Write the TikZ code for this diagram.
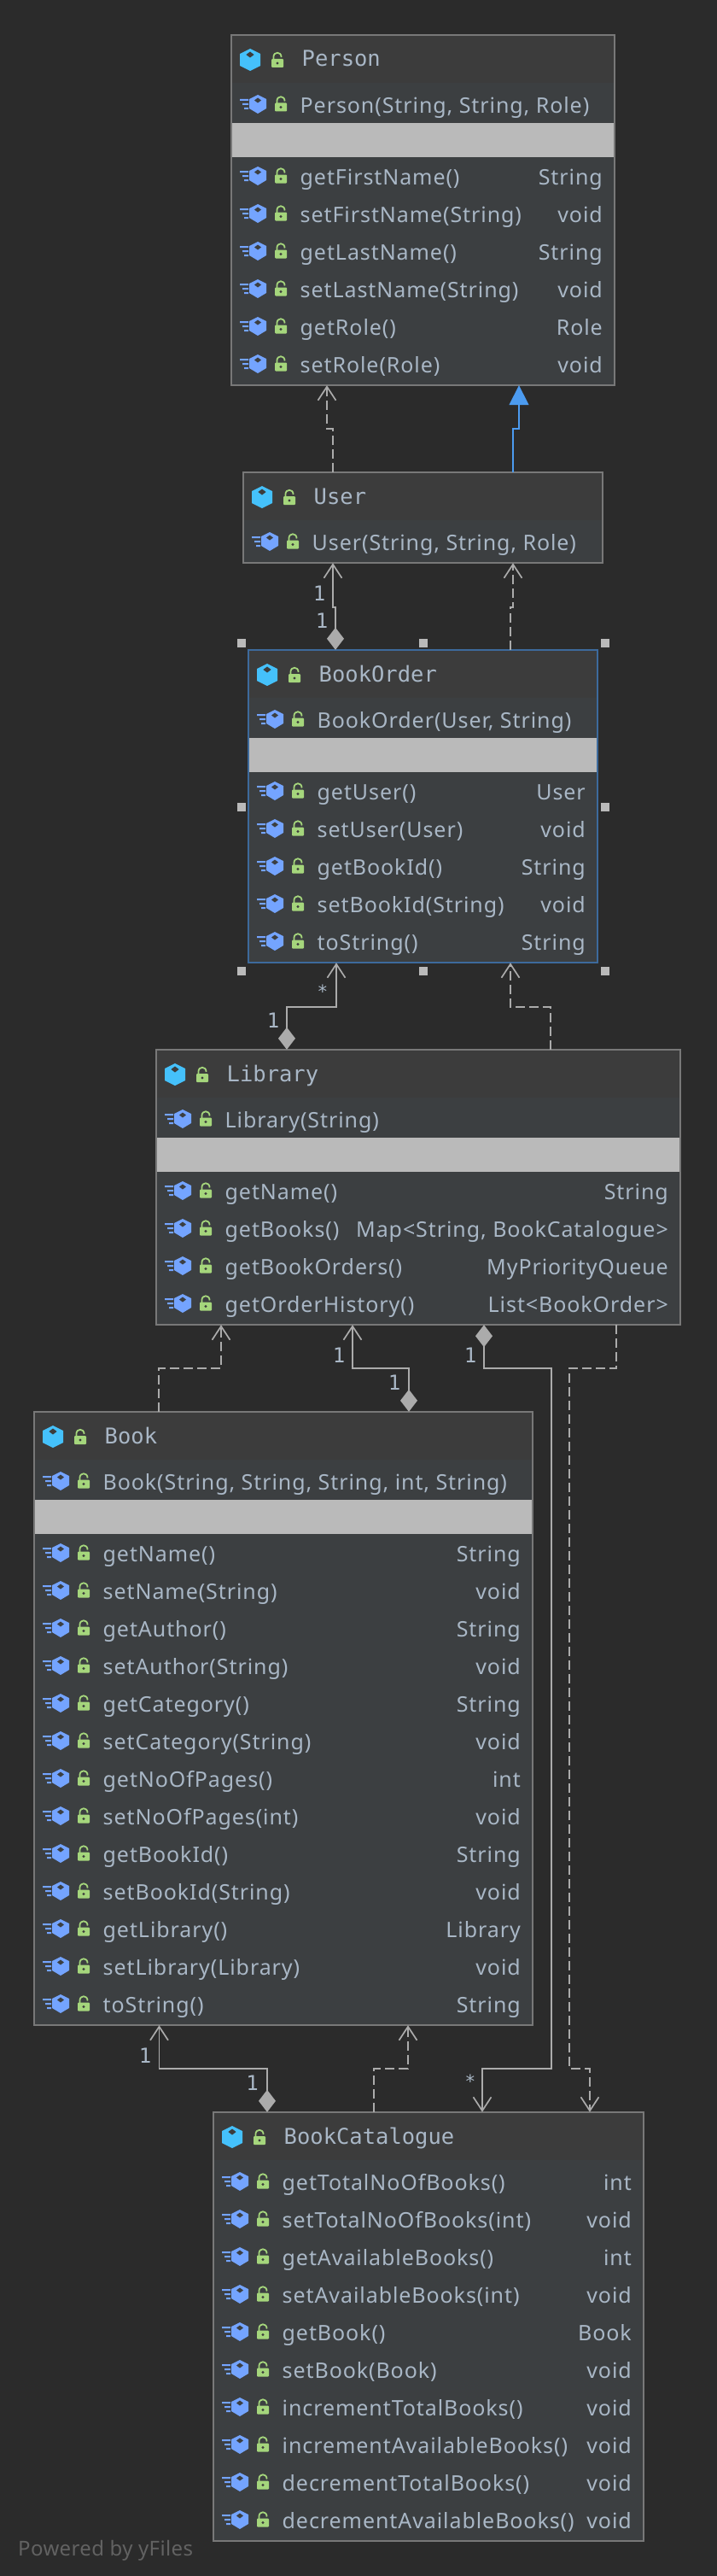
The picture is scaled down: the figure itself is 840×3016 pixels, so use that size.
\documentclass[tikz,border=0pt]{standalone}
\usepackage{fontspec}
\setmainfont{Noto Sans}
\newfontfamily\memberfont[LetterSpace=3.7]{Noto Sans}
\newfontfamily\stampfont[LetterSpace=1.5]{Noto Sans}
\newfontfamily\titlefont{DejaVu Sans Mono}
\usetikzlibrary{arrows.meta}

\definecolor{canvas}{HTML}{2B2B2B}
\definecolor{headfill}{HTML}{3C3C3C}
\definecolor{bodyfill}{HTML}{3C3F41}
\definecolor{frameline}{HTML}{787878}
\definecolor{selectline}{HTML}{3D6A9C}
\definecolor{bandfill}{HTML}{BABABA}
\definecolor{memtext}{HTML}{A9B7C6}
\definecolor{edgeline}{HTML}{ABABAB}
\definecolor{extendline}{HTML}{4C9BF0}
\definecolor{cubeclass}{HTML}{45C1FB}
\definecolor{cubemethod}{HTML}{74A4FF}
\definecolor{lockgreen}{HTML}{A5D67C}
\definecolor{stamptext}{HTML}{626262}

\tikzset{
  lockicon/.pic={
    \draw[lockgreen,line width=1.8pt,fill=none] (-4.6,-4) -- (-4.6,-7) .. controls (-4.6,-14) and (4.6,-14) .. (4.6,-7);
    \fill[lockgreen,rounded corners=1pt] (-7,-5) rectangle (7,5);
    \fill[headfill] (0,0) circle (1.6pt);
  },
  classicon/.pic={
    \fill[cubeclass] (0,-13) -- (12,-7) -- (12,7) -- (0,13) -- (-12,7) -- (-12,-7) -- cycle;
    \fill[headfill] (0,-9.5) -- (4.6,-6) -- (0,-2.5) -- (-4.6,-6) -- cycle;
  },
  methodicon/.pic={
    \fill[cubemethod] (21,-12) -- (31,-7) -- (31,4) -- (21,10) -- (11,4) -- (11,-7) -- cycle;
    \fill[bodyfill] (21,-8.5) -- (25,-5.5) -- (21,-2.5) -- (17,-5.5) -- cycle;
    \fill[cubemethod] (0,-7) rectangle (10,-5) (3,-2) rectangle (10,0) (5,3) rectangle (10,5);
  }
}

% box with its head strip, icons and title
\newcommand{\classbox}[6]{
  \def\boxl{#2}\def\boxr{#4}
  \node[classbody, minimum width={(#4-#2)*1pt}, minimum height={(#5-#3)*1pt}] (#1) at ({(#2+#4)/2},{(#3+#5)/2}) {};
  \node[classhead, minimum width={(#4-#2)*1pt}, minimum height=56pt] (#1-head) at ({(#2+#4)/2},#3+28) {};
  \pic at (#2+22,#3+29) {classicon};
  \pic at (#2+54,#3+33) {lockicon};
  \node[titletext] (#1-title) at (#2+82.5,#3+37) {#6};
}
\newcommand{\classframe}[2][frameline]{
  \draw[line width=1.7pt,#1] (#2.north west) rectangle (#2.south east);
}
\newcommand{\memberrow}[3]{
  \pic at (\boxl+10,#1) {methodicon};
  \pic at (\boxl+58,#1+2.5) {lockicon};
  \node[memberleft] (left#1) at (\boxl+80.5,#1+9) {#2};
  \node[memberright] (right#1) at (\boxr-14,#1+9) {#3};
}
\newcommand{\emptyband}[2]{
  \node[bandbox, minimum width={(\boxr-\boxl-1)*1pt}] (#1-band) at ({(\boxl+\boxr)/2},#2) {};
}

\begin{document}
\begin{tikzpicture}[x=1pt,y=-1pt]
  \tikzstyle{classbody}=[fill=bodyfill, inner sep=0pt]
  \tikzstyle{classhead}=[fill=headfill, inner sep=0pt]
  \tikzstyle{bandbox}=[fill=bandfill, inner sep=0pt, minimum height=40pt]
  \tikzstyle{titletext}=[anchor=base west, inner sep=0pt, text=memtext, font=\titlefont\fontsize{25.5}{30}\selectfont]
  \tikzstyle{memberleft}=[anchor=base west, inner sep=0pt, text=memtext, font=\memberfont\fontsize{25}{30}\selectfont]
  \tikzstyle{memberright}=[anchor=base east, inner sep=0pt, text=memtext, font=\memberfont\fontsize{25}{30}\selectfont]
  \tikzstyle{multi}=[anchor=base, inner sep=0pt, text=memtext, font=\titlefont\fontsize{24}{30}\selectfont]
  \tikzstyle{star}=[anchor=base, inner sep=0pt, text=memtext, font=\titlefont\fontsize{21}{25}\selectfont]
  \tikzstyle{handle}=[fill=bandfill, inner sep=0pt, minimum size=10pt]
  \tikzstyle{depends}=[edgeline, line width=1.7pt, dash pattern=on 11pt off 5pt, -{Straight Barb[length=16pt,width=21pt]}]
  \tikzstyle{owns}=[edgeline, line width=1.7pt, {Diamond[length=26pt,width=20pt]}-{Straight Barb[length=16pt,width=21pt]}]
  \tikzstyle{extends}=[extendline, line width=1.7pt, -{Triangle[length=23pt,width=23pt]}]

  \useasboundingbox (0,0) rectangle (840,3016);
  \fill[canvas] (0,0) rectangle (840,3016);

  \classbox{person}{271}{41}{720}{451}{Person}
  \memberrow{123}{Person(String, String, Role)}{}
  \emptyband{person}{164}
  \memberrow{207}{getFirstName()}{String}
  \memberrow{251}{setFirstName(String)}{void}
  \memberrow{295}{getLastName()}{String}
  \memberrow{339}{setLastName(String)}{void}
  \memberrow{383}{getRole()}{Role}
  \memberrow{427}{setRole(Role)}{void}
  \classframe{person}

  \classbox{user}{285}{553}{706}{659}{User}
  \memberrow{635}{User(String, String, Role)}{}
  \classframe{user}

  \classbox{bookorder}{291}{761}{700}{1127}{BookOrder}
  \memberrow{843}{BookOrder(User, String)}{}
  \emptyband{bookorder}{884}
  \memberrow{927}{getUser()}{User}
  \memberrow{971}{setUser(User)}{void}
  \memberrow{1015}{getBookId()}{String}
  \memberrow{1059}{setBookId(String)}{void}
  \memberrow{1103}{toString()}{String}
  \classframe[selectline]{bookorder}

  \classbox{library}{183}{1229}{797}{1551}{Library}
  \memberrow{1311}{Library(String)}{}
  \emptyband{library}{1352}
  \memberrow{1395}{getName()}{String}
  \memberrow{1439}{getBooks()}{Map<String, BookCatalogue>}
  \memberrow{1483}{getBookOrders()}{MyPriorityQueue}
  \memberrow{1527}{getOrderHistory()}{List<BookOrder>}
  \classframe{library}

  \classbox{book}{40}{1653}{624}{2371}{Book}
  \memberrow{1735}{Book(String, String, String, int, String)}{}
  \emptyband{book}{1776}
  \memberrow{1819}{getName()}{String}
  \memberrow{1863}{setName(String)}{void}
  \memberrow{1907}{getAuthor()}{String}
  \memberrow{1951}{setAuthor(String)}{void}
  \memberrow{1995}{getCategory()}{String}
  \memberrow{2039}{setCategory(String)}{void}
  \memberrow{2083}{getNoOfPages()}{int}
  \memberrow{2127}{setNoOfPages(int)}{void}
  \memberrow{2171}{getBookId()}{String}
  \memberrow{2215}{setBookId(String)}{void}
  \memberrow{2259}{getLibrary()}{Library}
  \memberrow{2303}{setLibrary(Library)}{void}
  \memberrow{2347}{toString()}{String}
  \classframe{book}

  \classbox{catalogue}{250}{2473}{754}{2975}{BookCatalogue}
  \memberrow{2555}{getTotalNoOfBooks()}{int}
  \memberrow{2599}{setTotalNoOfBooks(int)}{void}
  \memberrow{2643}{getAvailableBooks()}{int}
  \memberrow{2687}{setAvailableBooks(int)}{void}
  \memberrow{2731}{getBook()}{Book}
  \memberrow{2775}{setBook(Book)}{void}
  \memberrow{2819}{incrementTotalBooks()}{void}
  \memberrow{2863}{incrementAvailableBooks()}{void}
  \memberrow{2907}{decrementTotalBooks()}{void}
  \memberrow{2951}{decrementAvailableBooks()}{void}
  \classframe{catalogue}

  % bends
  \coordinate (a1) at (390,502);
  \coordinate (a2) at (383,502);
  \coordinate (b1) at (601,502);
  \coordinate (b2) at (608,502);
  \coordinate (c1) at (393,711);
  \coordinate (c2) at (390,711);
  \coordinate (d1) at (598,711);
  \coordinate (d2) at (601,711);
  \coordinate (e1) at (336,1179);
  \coordinate (e2) at (394,1179);
  \coordinate (f1) at (645,1179);
  \coordinate (f2) at (598,1179);
  \coordinate (g1) at (186,1602);
  \coordinate (g2) at (259,1602);
  \coordinate (h1) at (479,1602);
  \coordinate (h2) at (413,1602);
  \coordinate (i1) at (567,1602);
  \coordinate (i2) at (646,1602);
  \coordinate (i3) at (646,2422);
  \coordinate (i4) at (565,2422);
  \coordinate (j1) at (722,1602);
  \coordinate (j2) at (667,1602);
  \coordinate (j3) at (667,2422);
  \coordinate (j4) at (691,2422);
  \coordinate (k1) at (313,2422);
  \coordinate (k2) at (186.5,2422);
  \coordinate (l1) at (438,2422);
  \coordinate (l2) at (478,2422);

  \draw[depends] (user.north -| a1) -- (a1) -- (a2) -- (person.south -| a2);
  \draw[extends] (user.north -| b1) -- (b1) -- (b2) -- (person.south -| b2);
  \draw[owns] (bookorder.north -| c1) -- (c1) -- (c2) -- (user.south -| c2);
  \draw[depends] (bookorder.north -| d1) -- (d1) -- (d2) -- (user.south -| d2);
  \draw[owns] (library.north -| e1) -- (e1) -- (e2) -- (bookorder.south -| e2);
  \draw[depends] (library.north -| f1) -- (f1) -- (f2) -- (bookorder.south -| f2);
  \draw[depends] (book.north -| g1) -- (g1) -- (g2) -- (library.south -| g2);
  \draw[owns] (book.north -| h1) -- (h1) -- (h2) -- (library.south -| h2);
  \draw[owns] (library.south -| i1) -- (i1) -- (i2) -- (i3) -- (i4) -- (catalogue.north -| i4);
  \draw[depends] (library.south -| j1) -- (j1) -- (j2) -- (j3) -- (j4) -- (catalogue.north -| j4);
  \draw[owns] (catalogue.north -| k1) -- (k1) -- (k2) -- (book.south -| k2);
  \draw[depends] (catalogue.north -| l1) -- (l1) -- (l2) -- (book.south -| l2);

  \node[multi] (m1) at (374,703) {1};
  \node[multi] (m2) at (377,735) {1};
  \node[star] (m3) at (378,1168) {*};
  \node[multi] (m4) at (320,1203) {1};
  \node[multi] (m5) at (397,1595) {1};
  \node[multi] (m6) at (462,1627) {1};
  \node[multi] (m7) at (551,1595) {1};
  \node[multi] (m8) at (170,2415) {1};
  \node[multi] (m9) at (295.5,2447) {1};
  \node[star] (m10) at (551,2444) {*};

  % handles round the selected box
  \foreach \hx/\hy [count=\hn] in {283/753,496/753,709/753,283/945,709/945,283/1137,496/1137,709/1137}
    \node[handle] (handle\hn) at (\hx,\hy) {};

  \node[anchor=base west, inner sep=0pt, text=stamptext, font=\stampfont\fontsize{24}{30}\selectfont] (stamp) at (21,2992) {Powered by yFiles};
\end{tikzpicture}
\end{document}
